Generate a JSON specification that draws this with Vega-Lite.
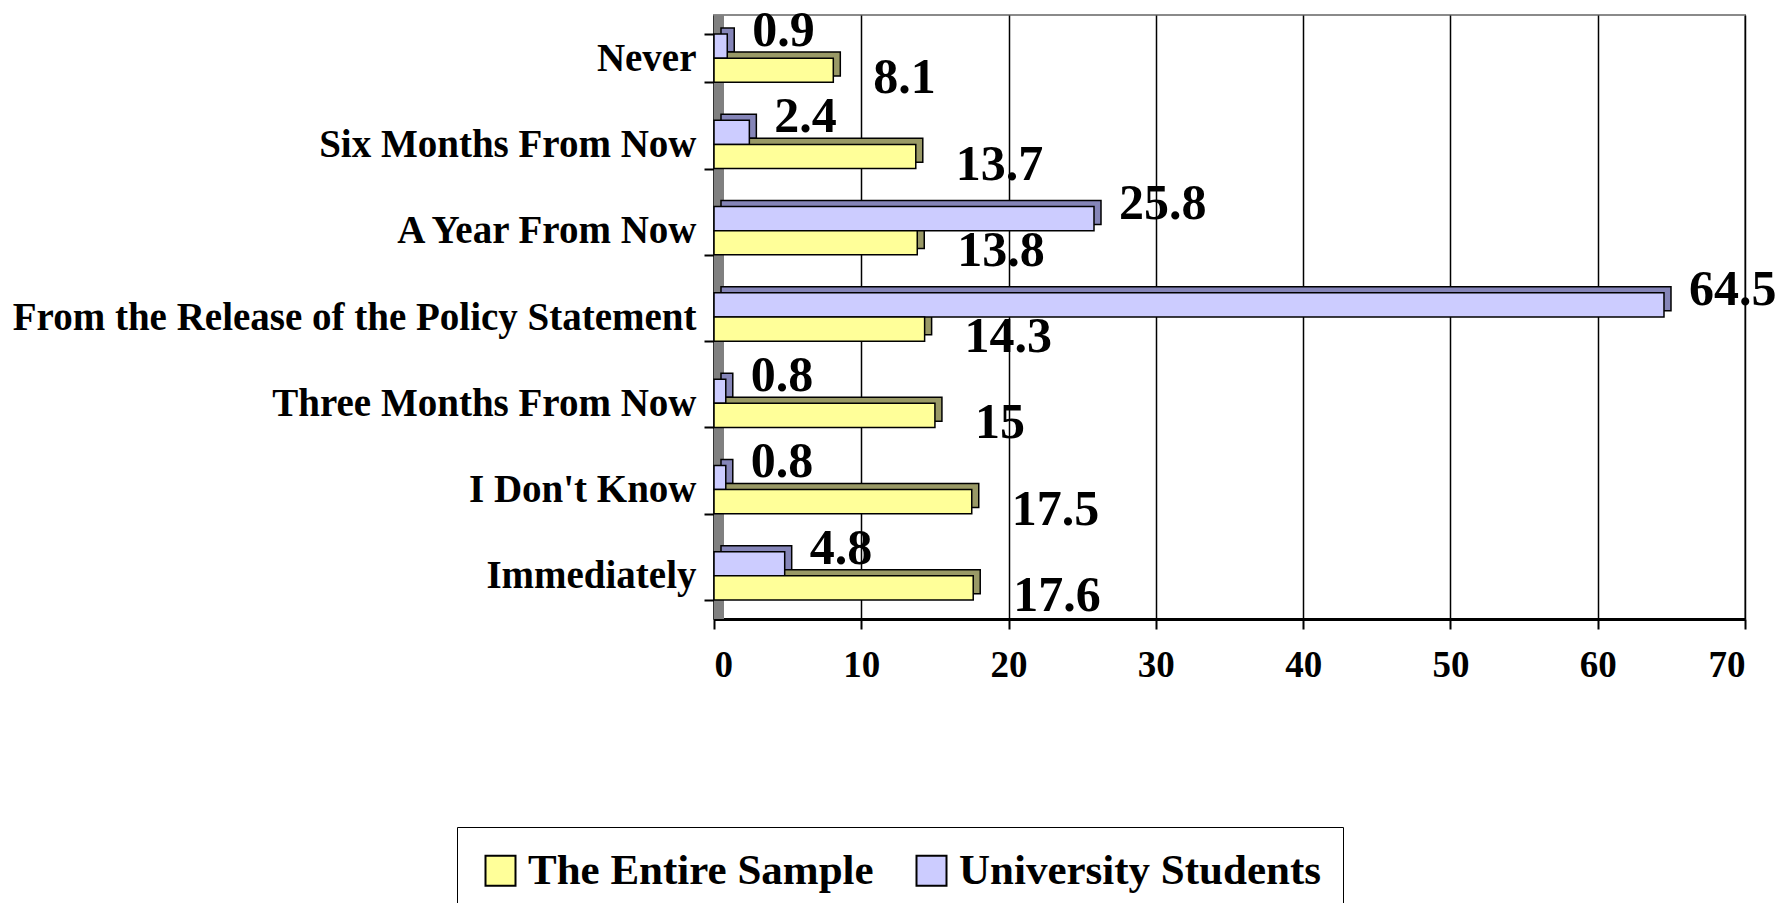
{
  "$schema": "https://vega.github.io/schema/vega-lite/v6.json",
  "width": 1031,
  "height": 604,
  "autosize": {"type": "none"},
  "padding": {"left": 714, "top": 15, "right": 35, "bottom": 284},
  "background": "white",
  "config": {
    "view": {"stroke": "#8a8a8a", "strokeWidth": 2},
    "font": "Liberation Serif",
    "text": {"font": "Liberation Serif"}
  },
  "data": {
    "values": [
      {"category": "Never", "series": "University Students", "value": 0.9},
      {"category": "Never", "series": "The Entire Sample", "value": 8.1},
      {"category": "Six Months From Now", "series": "University Students", "value": 2.4},
      {"category": "Six Months From Now", "series": "The Entire Sample", "value": 13.7},
      {"category": "A Year From Now", "series": "University Students", "value": 25.8},
      {"category": "A Year From Now", "series": "The Entire Sample", "value": 13.8},
      {"category": "From the Release of the Policy Statement", "series": "University Students", "value": 64.5},
      {"category": "From the Release of the Policy Statement", "series": "The Entire Sample", "value": 14.3},
      {"category": "Three Months From Now", "series": "University Students", "value": 0.8},
      {"category": "Three Months From Now", "series": "The Entire Sample", "value": 15},
      {"category": "I Don't Know", "series": "University Students", "value": 0.8},
      {"category": "I Don't Know", "series": "The Entire Sample", "value": 17.5},
      {"category": "Immediately", "series": "University Students", "value": 4.8},
      {"category": "Immediately", "series": "The Entire Sample", "value": 17.6}
    ]
  },
  "encoding": {
    "y": {
      "field": "category",
      "type": "nominal",
      "sort": ["Never", "Six Months From Now", "A Year From Now", "From the Release of the Policy Statement", "Three Months From Now", "I Don't Know", "Immediately"],
      "scale": {"paddingInner": 0.44, "paddingOuter": 0.22},
      "axis": {
        "title": null,
        "labelFont": "Liberation Serif",
        "labelFontSize": 39,
        "labelFontWeight": "bold",
        "labelColor": "black",
        "labelLimit": 1000,
        "labelPadding": 8,
        "tickBand": "extent",
        "tickSize": 10,
        "tickWidth": 2,
        "tickColor": "black",
        "domainColor": "black",
        "domainWidth": 2,
        "grid": false
      }
    },
    "x": {
      "field": "value",
      "type": "quantitative",
      "scale": {"domain": [0, 70], "nice": false},
      "axis": {
        "title": null,
        "values": [0, 10, 20, 30, 40, 50, 60, 70],
        "labelFont": "Liberation Serif",
        "labelFontSize": 37,
        "labelFontWeight": "bold",
        "labelColor": "black",
        "labelPadding": 18,
        "tickSize": 10,
        "tickWidth": 2,
        "tickColor": "black",
        "domainColor": "black",
        "domainWidth": 3,
        "grid": true,
        "gridColor": "black",
        "gridWidth": 1.5
      }
    }
  },
  "layer": [
    {
      "mark": {"type": "rule", "color": "#808080", "strokeWidth": 10, "xOffset": 5},
      "encoding": {"x": {"datum": 0, "type": "quantitative"}, "y": null}
    },
    {
      "mark": {"type": "bar", "xOffset": 7, "stroke": "black", "strokeWidth": 1.5},
      "encoding": {
        "yOffset": {"field": "series", "sort": ["University Students", "The Entire Sample"], "scale": {"paddingInner": 0, "range": [-6, 42]}},
        "color": {
          "field": "series",
          "scale": {"domain": ["The Entire Sample", "University Students"], "range": ["#999966", "#8585B8"]},
          "legend": null
        }
      }
    },
    {
      "layer": [
        {
          "mark": {"type": "bar", "stroke": "black", "strokeWidth": 1.5},
          "encoding": {
            "color": {
              "field": "series",
              "scale": {"domain": ["The Entire Sample", "University Students"], "range": ["#FFFF99", "#CCCCFF"]},
              "legend": {
                "title": null,
                "orient": "none",
                "legendX": -257,
                "legendY": 812,
                "direction": "horizontal",
                "labelFont": "Liberation Serif",
                "labelFontSize": 43,
                "labelFontWeight": "bold",
                "labelColor": "black",
                "labelLimit": 600,
                "labelOffset": 6,
                "symbolType": "square",
                "symbolSize": 900,
                "symbolStrokeColor": "black",
                "symbolStrokeWidth": 2,
                "symbolOpacity": 1,
                "strokeColor": "black",
                "fillColor": "white",
                "padding": 22,
                "columnPadding": 36
              }
            }
          }
        },
        {
          "transform": [{"filter": "datum.series === 'University Students'"}],
          "mark": {"type": "text", "align": "left", "baseline": "middle", "dx": 25, "dy": -15, "fontSize": 50, "fontWeight": "bold", "color": "black"},
          "encoding": {
            "text": {"field": "value", "type": "quantitative"}
          }
        },
        {
          "transform": [{"filter": "datum.series === 'The Entire Sample'"}],
          "mark": {"type": "text", "align": "left", "baseline": "middle", "dx": 40, "dy": 8, "fontSize": 50, "fontWeight": "bold", "color": "black"},
          "encoding": {
            "text": {"field": "value", "type": "quantitative"}
          }
        }
      ],
      "encoding": {
        "yOffset": {"field": "series", "sort": ["University Students", "The Entire Sample"], "scale": {"paddingInner": 0}}
      }
    }
  ],
  "resolve": {"scale": {"color": "independent", "yOffset": "independent"}}
}
